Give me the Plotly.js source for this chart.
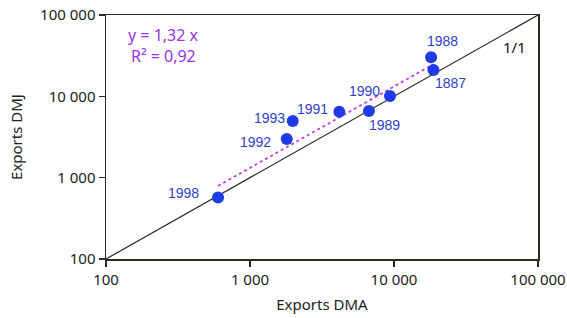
<!DOCTYPE html>
<html><head><meta charset="utf-8">
<script src="https://cdn.plot.ly/plotly-3.0.1.min.js"></script>
<style>html,body{margin:0;padding:0;background:#fff}#chart{width:567px;height:318px}</style>
</head><body><div id="chart"></div>
<script>
const years = ["1998","1992","1993","1991","1989","1990","1988","1887"];
const exportsDMA = [600, 1800, 1980, 4170, 6700, 9380, 18100, 18800];
const exportsDMJ = [570, 2990, 4970, 6470, 6590, 10100, 30200, 21100];
const slope = 1.32;
const trendX = [600, 18800];
const diagX = [100, 100000];
const tickVals = [100, 1000, 10000, 100000];
const tickText = ["100", "1 000", "10 000", "100 000"];
// label pixel offsets from each point (style only)
const labelShift = [[-35,-5],[-31,3],[-23,-3],[-27,-3],[16,14],[-26,-5],[11,-16],[17,13]];

const font = "Noto Sans, Open Sans, sans-serif";
const traces = [
  {x: diagX, y: diagX, mode: "lines", line: {color: "#2b2b20", width: 1.2}, hoverinfo: "skip"},
  {x: trendX, y: trendX.map(v => v * slope), mode: "lines", line: {color: "#c040e0", width: 1.8, dash: "dot"}, hoverinfo: "skip"},
  {x: exportsDMA, y: exportsDMJ, mode: "markers", marker: {color: "#1f3be6", size: 12}}
];
const axisCommon = {
  type: "log", range: [2, 5], tickvals: tickVals, ticktext: tickText,
  showgrid: false, zeroline: false, showline: true, mirror: true,
  linecolor: "#2b2b20", linewidth: 1.5, ticks: "outside", ticklen: 6, tickwidth: 1.5, tickcolor: "#2b2b20",
  tickfont: {family: font, size: 15, color: "#222"}
};
const pw = 567 - 106 - 29, ph = 318 - 15 - 59;
const annotations = years.map((t, i) => ({
  x: Math.log10(exportsDMA[i]), y: Math.log10(exportsDMJ[i]), xref: "x", yref: "y",
  text: t, showarrow: false, xanchor: "center", yanchor: "middle",
  xshift: labelShift[i][0], yshift: -labelShift[i][1],
  font: {family: "Liberation Sans, Arial, sans-serif", size: 14, color: "#2f3fc8"}
}));
annotations.push(
  {x: 4.84, y: 4.606, xref: "x", yref: "y", text: "1/1", showarrow: false, font: {family: font, size: 15, color: "#111"}},
  {x: (163 - 106) / pw, y: 1 - (35 - 15) / ph, xref: "paper", yref: "paper", xanchor: "center", yanchor: "middle",
   text: "y = 1,32 x", showarrow: false, font: {family: font, size: 16, color: "#9a30e8"}},
  {x: (163 - 106) / pw, y: 1 - (56 - 15) / ph, xref: "paper", yref: "paper", xanchor: "center", yanchor: "middle",
   text: "R² = 0,92", showarrow: false, font: {family: font, size: 16, color: "#9a30e8"}}
);
const layout = {
  width: 567, height: 318, margin: {l: 106, r: 29, t: 15, b: 59},
  paper_bgcolor: "#fff", plot_bgcolor: "#fff", showlegend: false,
  xaxis: Object.assign({}, axisCommon, {title: {text: "Exports DMA", font: {family: font, size: 15, color: "#222"}, standoff: 12}}),
  yaxis: Object.assign({}, axisCommon, {title: {text: "Exports DMJ", font: {family: font, size: 15, color: "#222"}, standoff: 14}}),
  annotations: annotations
};
Plotly.newPlot("chart", traces, layout, {displayModeBar: false, staticPlot: true});
</script></body></html>
